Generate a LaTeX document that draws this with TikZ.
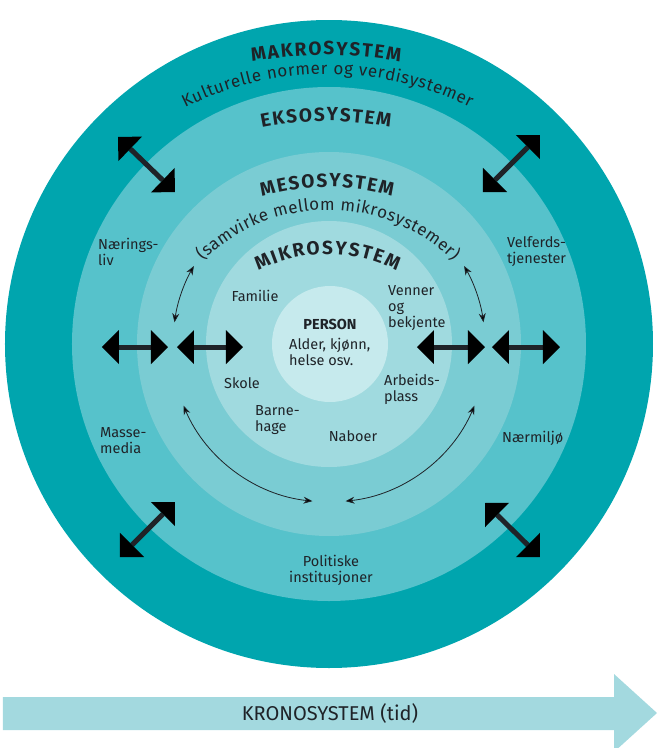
\documentclass[tikz,border=0pt]{standalone}
\usepackage{fontspec}
\setmainfont{Fira Sans}
\usetikzlibrary{arrows.meta,decorations.text}
\definecolor{makro}{HTML}{00A5AE}
\definecolor{ekso}{HTML}{56C2CB}
\definecolor{meso}{HTML}{7ACCD3}
\definecolor{mikro}{HTML}{A0DADF}
\definecolor{person}{HTML}{C6EAED}
\definecolor{krono}{HTML}{A3D9DF}
\definecolor{ink}{HTML}{1F2328}
\newcommand\capsfont{\bfseries\fontsize{19}{19}\selectfont}
\newcommand\subfont{\fontsize{17}{17}\selectfont}
\begin{document}
\begin{tikzpicture}[x=1pt,y=1pt,
  every node/.style={font=\fontsize{14.5}{16}\selectfont,text=ink,inner sep=0pt},
  lbl/.style={align=left,anchor=west},
  bigarrow/.style={draw=ink,line width=5pt,{Triangle[length=17pt,width=34pt,line width=0pt]}-{Triangle[length=17pt,width=34pt,line width=0pt]}},
  thinarrow/.style={draw=ink,line width=0.8pt,{Stealth[length=9pt,width=7pt]}-{Stealth[length=9pt,width=7pt]}},
  ringtext/.style={decorate,decoration={text along path,text color=ink,text align={fit to path},text={#1}}}]
  \useasboundingbox (-329,-404) rectangle (331,344);
  % rings
  \fill[makro] (0,0) circle[radius=324];
  \fill[ekso] (0,0) circle[radius=257];
  \fill[meso] (0,0) circle[radius=192];
  \fill[mikro] (0,0) circle[radius=123];
  \fill[person] (1,0) circle[radius=58];
  % ring titles
  \path[ringtext={|\capsfont|MAKROSYSTEM}] ([shift={(-3,-111)}]100.66:400) arc[start angle=100.66,end angle=79.34,radius=400];
  \path[ringtext={|\subfont|Kulturelle normer og verdisystemer}] ([shift={(-1.5,-48)}]116.6:318) arc[start angle=116.6,end angle=63.4,radius=318];
  \path[ringtext={|\capsfont|EKSOSYSTEM}] ([shift={(-3,-97)}]101.54:320) arc[start angle=101.54,end angle=78.46,radius=320];
  \path[ringtext={|\capsfont|MESOSYSTEM}] ([shift={(-2,-73)}]106.42:230) arc[start angle=106.42,end angle=73.58,radius=230];
  \path[ringtext={|\subfont|(samvirke mellom mikrosystemer)}] ([shift={(-1,-45)}]134.3:179) arc[start angle=134.3,end angle=45.7,radius=179];
  \path[ringtext={|\capsfont|MIKROSYSTEM}] ([shift={(-1.5,-58)}]117.8:148) arc[start angle=117.8,end angle=62.2,radius=148];
  % labels
  \node[lbl] (naering) at (-231,92) {Nærings-\\liv};
  \node[lbl] (velferd) at (178,92) {Velferds-\\tjenester};
  \node[lbl] (masse) at (-229,-97) {Masse-\\media};
  \node[lbl] (naermiljo) at (173,-94) {Nærmiljø};
  \node[align=center] (politisk) at (2,-226) {Politiske\\institusjoner};
  \node (familie) at (-74,48) {Familie};
  \node[lbl] (venner) at (59,36) {Venner\\og\\bekjente};
  \node[font=\bfseries\fontsize{14.5}{16}\selectfont] (persontitle) at (1,20) {PERSON};
  \node[lbl] (persondetail) at (-40,-8) {Alder, kjønn,\\helse osv.};
  \node (skole) at (-87,-39) {Skole};
  \node[lbl] (arbeid) at (55,-45) {Arbeids-\\plass};
  \node[lbl] (barne) at (-74,-76) {Barne-\\hage};
  \node (naboer) at (24,-92) {Naboer};
  % big arrows
  \draw[bigarrow] (-227,-3) -- (-161,-3);
  \draw[bigarrow] (-152,-3) -- (-86,-3);
  \draw[bigarrow] (88,-3) -- (156,-3);
  \draw[bigarrow] (163,-3) -- (231,-3);
  \draw[bigarrow] (-211,207) -- (-154,152);
  \draw[bigarrow] (211,209) -- (154,152);
  \draw[bigarrow] (-154,-158) -- (-209,-213);
  \draw[bigarrow] (156,-159) -- (211,-213);
  % thin arcs
  \draw[thinarrow] (172:156) arc[start angle=172,end angle=150,radius=156];
  \draw[thinarrow] (8:156) arc[start angle=8,end angle=30,radius=156];
  \draw[thinarrow] (203:158) arc[start angle=203,end angle=264,radius=158];
  \draw[thinarrow] (337:158) arc[start angle=337,end angle=276,radius=158];
  % time arrow
  \fill[krono] (-326,-353) -- (285,-353) -- (285,-330) -- (328,-369) -- (285,-408) -- (285,-386) -- (-326,-386) -- cycle;
  \node[font=\fontsize{20}{20}\selectfont] (kronotext) at (1,-369) {KRONOSYSTEM (tid)};
\end{tikzpicture}
\end{document}
